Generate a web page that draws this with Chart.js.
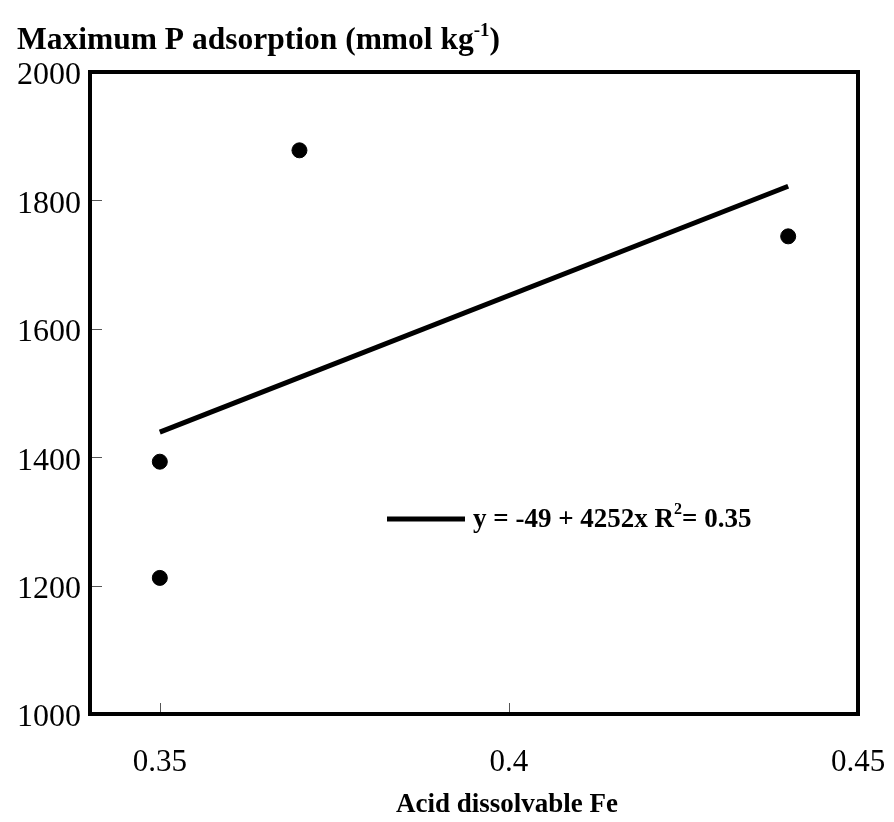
<!DOCTYPE html>
<html>
<head>
<meta charset="utf-8">
<script src="https://cdn.jsdelivr.net/npm/chart.js@4.4.0/dist/chart.umd.min.js"></script>
<style>
  html, body { margin: 0; padding: 0; background: #fff; }
  canvas { display: block; }
</style>
</head>
<body>
<canvas id="chart" width="894" height="822"></canvas>
<script>
// measured points
const feValues = [0.35, 0.35, 0.37, 0.44];
const pValues = [1212, 1393, 1878, 1744];

// regression line end points
const fitX = [0.35, 0.44];
const fitY = [1439, 1822];

const xTicks = [0.35, 0.4, 0.45];
const yTicks = [1000, 1200, 1400, 1600, 1800, 2000];

const FONT = '"Liberation Serif", "Times New Roman", serif';

// box, inside ticks, titles and the legend
const decorations = {
    id: 'decorations',
    afterDraw(chart) {
        const ctx = chart.ctx;
        const a = chart.chartArea;
        const xs = chart.scales.x, ys = chart.scales.y;
        ctx.save();

        // tick marks pointing into the plot
        ctx.strokeStyle = '#555';
        ctx.lineWidth = 1;
        ctx.beginPath();
        xTicks.forEach(v => {
            const px = Math.round(xs.getPixelForValue(v)) + 0.5;
            ctx.moveTo(px, a.bottom);
            ctx.lineTo(px, a.bottom - 11);
        });
        yTicks.forEach(v => {
            const py = Math.round(ys.getPixelForValue(v)) + 0.5;
            ctx.moveTo(a.left, py);
            ctx.lineTo(a.left + 12, py);
        });
        ctx.stroke();

        // frame
        ctx.strokeStyle = '#000';
        ctx.lineWidth = 4;
        ctx.strokeRect(a.left, a.top, a.right - a.left, a.bottom - a.top);

        ctx.fillStyle = '#000';
        ctx.textBaseline = 'alphabetic';

        // y title with superscript
        ctx.textAlign = 'left';
        let x = 17;
        ctx.font = 'bold 31.5px ' + FONT;
        const t1 = 'Maximum P adsorption (mmol kg';
        ctx.fillText(t1, x, 49);
        x += ctx.measureText(t1).width;
        ctx.font = 'bold 19px ' + FONT;
        ctx.fillText('-1', x, 36);
        x += ctx.measureText('-1').width;
        ctx.font = 'bold 31.5px ' + FONT;
        ctx.fillText(')', x, 49);

        // x title
        ctx.textAlign = 'center';
        ctx.font = 'bold 27px ' + FONT;
        ctx.fillText('Acid dissolvable Fe', 507, 812);

        // legend
        ctx.lineWidth = 5;
        ctx.beginPath();
        ctx.moveTo(387, 519);
        ctx.lineTo(465, 519);
        ctx.stroke();
        ctx.textAlign = 'left';
        let lx = 473;
        ctx.font = 'bold 27px ' + FONT;
        const l1 = 'y = -49 + 4252x R';
        ctx.fillText(l1, lx, 527);
        lx += ctx.measureText(l1).width;
        ctx.font = 'bold 16px ' + FONT;
        ctx.fillText('2', lx, 514);
        lx += ctx.measureText('2').width;
        ctx.font = 'bold 27px ' + FONT;
        ctx.fillText('= 0.35', lx, 527);

        ctx.restore();
    }
};

new Chart(document.getElementById('chart'), {
    type: 'scatter',
    data: {
        datasets: [{
            label: 'Samples',
            data: feValues.map((v, i) => ({ x: v, y: pValues[i] })),
            backgroundColor: '#000',
            borderColor: '#000',
            pointRadius: 7.5,
            pointHoverRadius: 7.5
        }, {
            label: 'Fit',
            type: 'line',
            data: fitX.map((v, i) => ({ x: v, y: fitY[i] })),
            borderColor: '#000',
            borderWidth: 5,
            pointRadius: 0,
            fill: false
        }]
    },
    options: {
        responsive: false,
        animation: false,
        layout: { padding: { top: 72, right: 36, left: 0, bottom: 0 } },
        plugins: {
            legend: { display: false },
            tooltip: { enabled: false }
        },
        scales: {
            x: {
                type: 'linear',
                min: 0.34,
                max: 0.45,
                grid: { display: false },
                border: { display: false },
                afterBuildTicks: s => { s.ticks = xTicks.map(v => ({ value: v })); },
                afterFit: s => { s.height = 108; s.paddingLeft = 0; s.paddingRight = 0; },
                ticks: {
                    color: '#000',
                    padding: 22,
                    font: { family: FONT, size: 31 },
                    callback: v => String(v)
                }
            },
            y: {
                min: 1000,
                max: 2000,
                grid: { display: false },
                border: { display: false },
                afterBuildTicks: s => { s.ticks = yTicks.map(v => ({ value: v })); },
                afterFit: s => { s.width = 90; s.paddingTop = 0; s.paddingBottom = 0; },
                ticks: {
                    color: '#000',
                    padding: 1,
                    labelOffset: 4,
                    font: { family: FONT, size: 32 },
                    callback: v => String(v)
                }
            }
        }
    },
    plugins: [decorations]
});
</script>
</body>
</html>
